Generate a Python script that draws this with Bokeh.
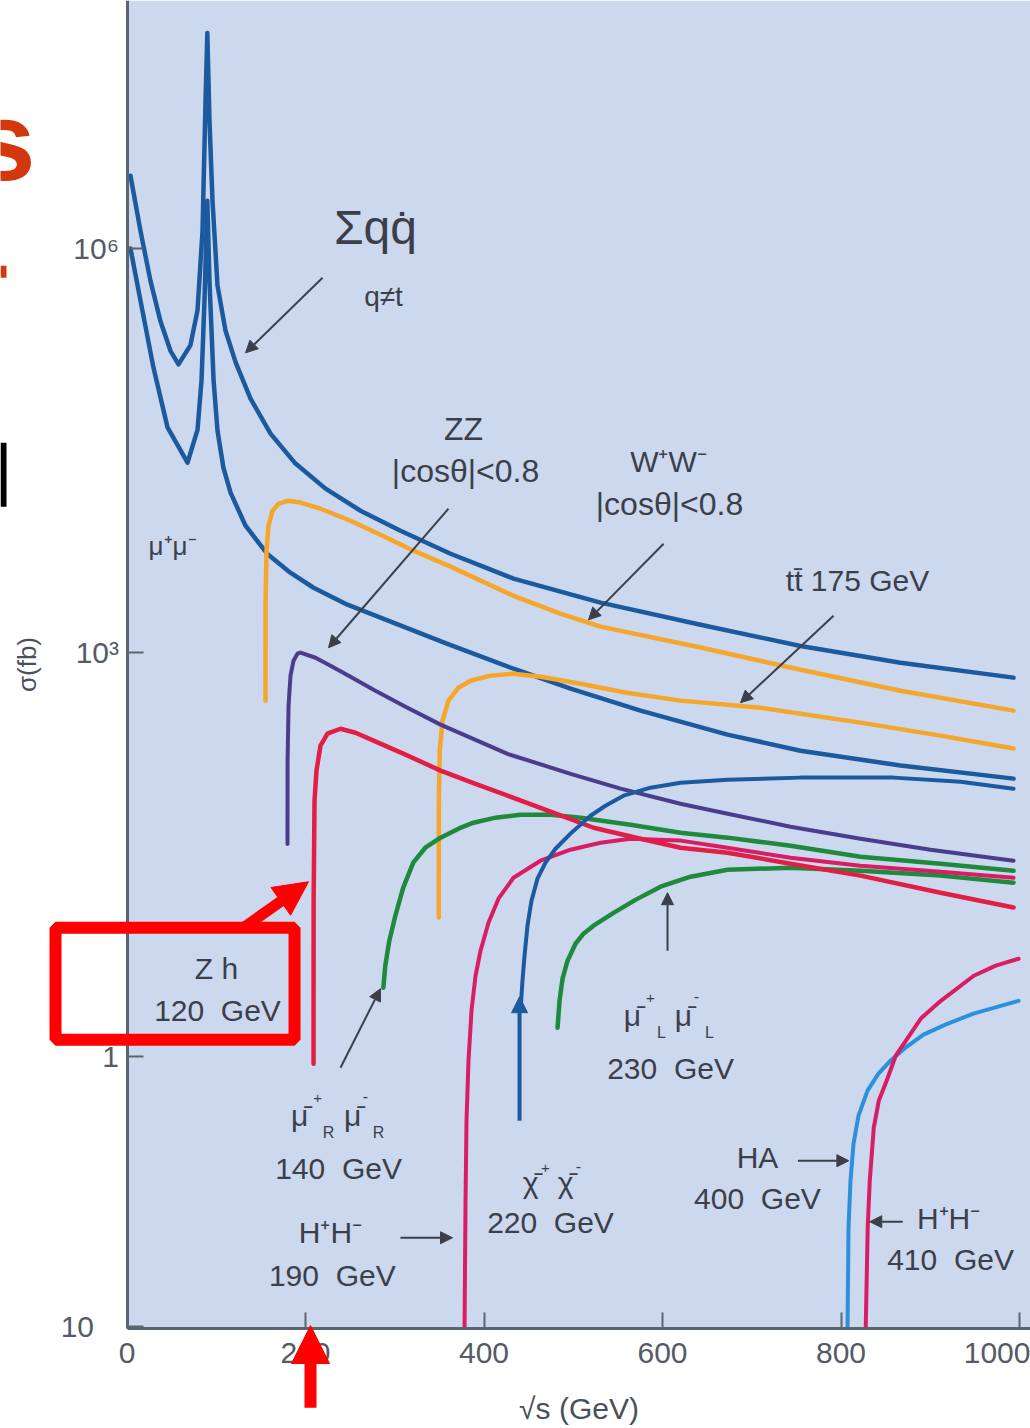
from bokeh.plotting import figure
from bokeh.models import Range1d, FixedTicker, Label, Arrow, NormalHead, BoxAnnotation, LinearAxis, LogAxis
from bokeh.embed import file_html
from bokeh.resources import INLINE

# ---------------- data (sqrt(s) in GeV, sigma in fb) ----------------
qq_E = [3.9, 15.1, 26.3, 37.5, 48.7, 57.7, 71, 79, 84.6, 88, 90, 92.4, 95.8, 101.4, 110.4, 121.8, 138.4,
        160.8, 188.8, 222.4, 261.6, 306.4, 362.5, 433.1, 530.5, 642.6, 754.6, 866.7, 993.3]
qq_S = [3.47e6, 1.35e6, 5.75e5, 2.88e5, 1.74e5, 1.38e5, 1.91e5, 3.47e5, 1.35e6, 1.26e7, 3.98e7, 8.9e6, 2.26e6,
        5.30e5, 2.45e5, 1.42e5, 7.67e4, 4.22e4, 2.53e4, 1.65e4, 1.13e4, 8.03e3, 5.42e3, 3.54e3, 2.35e3,
        1.61e3, 1.12e3, 841, 652]

mumu_E = [3.9, 15.1, 29.7, 45.4, 67.8, 79, 83.5, 86.8, 90, 92.4, 97, 101.4, 108, 116, 132.8, 157, 183, 209,
          247, 284, 359, 433.1, 497, 575.4, 672.8, 754.6, 866.7, 993.3]
mumu_S = [1.0e6, 4.1e5, 1.3e5, 4.7e4, 2.57e4, 4.5e4, 1.05e5, 4.1e5, 2.26e6, 5.75e5, 1.05e5, 4.44e4, 2.36e4,
          1.54e4, 8.75e3, 5.42e3, 3.92e3, 3.03e3, 2.27e3, 1.82e3, 1.16e3, 759, 540, 371, 246, 187, 145, 116]

ww_E = [155.2, 155.3, 156.3, 158.5, 163, 169.7, 179.8, 194.4, 216.8, 250.4, 284, 321.1, 362.5, 433.1, 486.3,
        530.5, 642.6, 754.6, 866.7, 993.3]
ww_S = [440, 2430, 5.71e3, 8.75e3, 1.13e4, 1.27e4, 1.34e4, 1.30e4, 1.17e4, 9.53e3, 7.50e3, 5.71e3, 4.35e3,
        2.64e3, 1.94e3, 1.56e3, 1.09e3, 746, 521, 371]

zz_E = [179.8, 179.9, 181, 183.2, 186.6, 191, 194.4, 211.2, 228, 250.4, 276.2, 312, 351.3, 426.4, 497, 553,
        620, 673, 743.4, 821.8, 900.3, 993.3]
zz_S = [38, 157, 404, 674, 871, 982, 1000, 916, 800, 662, 530, 396, 292, 177, 126, 97.7, 75.5, 63.7, 51,
        41.5, 34.4, 28.5]

tt_E = [349.3, 349.4, 350.4, 353.5, 360.2, 371.4, 384.9, 407.3, 433, 463.3, 508.1, 559.7, 620.2, 709.8,
        821.8, 911.5, 993.3]
tt_S = [10.8, 80, 187, 312, 440, 549, 618, 674, 697, 662, 588, 504, 440, 390, 302, 242, 194]

zh_E = [209, 209.1, 210.1, 212.3, 216.8, 224.6, 239.2, 256, 276.2, 312, 351.3, 390.5, 426.4, 474.5, 522.7,
        575.4, 620.2, 672.8, 743.4, 821.8, 911.5, 993.3]
zh_S = [0.887, 14.4, 79.6, 133, 204, 250, 272, 254, 222, 175, 133, 106, 86.7, 65.9, 50.1, 41.5, 35.6, 32.7,
        27.1, 22.1, 16.5, 12.8]

smuR_E = [287.2, 289.4, 293.9, 300.6, 309.5, 320.7, 334.2, 351.3, 371.4, 388.2, 412.9, 440.9, 474.5, 508.1,
          564.1, 620.2, 672.8, 743.4, 821.8, 911.5, 993.3]
smuR_S = [3.25, 4.74, 7.27, 11.1, 18.0, 27.6, 35.6, 42.3, 49.3, 54.6, 59.5, 62.6, 62.6, 59.5, 52.7, 46.0,
          42.3, 36.8, 30.5, 27.1, 24.0]

chi_E = [440.9, 443.1, 445.4, 448.7, 453.2, 459.9, 468.9, 480.1, 496.9, 519.3, 536.1, 556.3, 586.6, 620.2,
         672.8, 754.6, 858.8, 933.9, 993.3]
chi_S = [2.2, 3.67, 5.62, 9.4, 14.4, 21.0, 27.6, 35.0, 45.3, 61.5, 73.0, 86.7, 99.4, 108, 114, 118, 118, 110,
         97.7]

hpm190_E = [378.2, 379.3, 380.4, 382.6, 386, 390.5, 396.1, 405, 416.2, 433, 463.3, 496.9, 530.5, 564.1, 620.2,
            672.8, 743.4, 821.8, 911.5, 993.3]
hpm190_S = [0.00973, 0.0853, 0.335, 0.934, 2.2, 3.99, 6.12, 9.88, 14.9, 21.3, 28.5, 34.4, 38.8, 41.5, 40.2,
            35.6, 30.0, 26.2, 23.6, 21.3]

smuL_E = [482.4, 484.6, 488, 493.6, 502.5, 511.5, 522.7, 545.1, 569.7, 597.8, 631.4, 672.8, 743.4, 821.8,
          911.5, 993.3]
smuL_S = [1.64, 2.6, 3.8, 5.16, 6.9, 8.19, 9.4, 11.7, 14.6, 18.3, 21.7, 24.4, 25.3, 24.0, 22.1, 19.6]

ha_E = [807.3, 808.4, 810.6, 814, 819.6, 829.7, 842, 855.5, 872.3, 892.4, 917, 948.4, 998.9]
ha_S = [0.00973, 0.0538, 0.12, 0.226, 0.365, 0.56, 0.748, 0.934, 1.17, 1.46, 1.73, 2.09, 2.6]

hpm410_E = [827.7, 829.9, 832.2, 836.7, 842.3, 852.4, 861.3, 874.8, 889.4, 911.8, 948.8, 973.4, 999]
hpm410_S = [0.00973, 0.0538, 0.12, 0.297, 0.471, 0.698, 1.02, 1.38, 1.92, 2.6, 3.99, 4.74, 5.34]

x_ticks = [0, 200, 400, 600, 800, 1000]
y_ticks = [0.01, 1, 1000, 1000000]
y_tick_labels = {0.01: "10\u00a0\u00a0\u00a0", 1: "1", 1000: "10³", 1000000: "10⁶"}

E_MIN, E_MAX = 0, 1012.3          # extent of the plotted panel (GeV)
S_MIN, S_MAX = 10 ** -2.018, 10 ** 7.841   # extent of the plotted panel (fb)

# ---------------- styling ----------------
BLUE = "#1b5a9f"
ORANGE = "#f5a62b"
PURPLE = "#4a3d8d"
RED = "#e21e45"
PINK = "#d91c63"
GREEN = "#1f8a3c"
LBLUE = "#2d90db"
TXT = "#3b3f4a"
AXC = "#5c6470"
FONT = "Liberation Sans"

p = figure(width=1030, height=1428, x_range=Range1d(-141.74, 1012.3), y_range=Range1d(10 ** -2.760, 10 ** 7.841),
           y_axis_type="log", x_axis_location=None, y_axis_location=None,
           output_backend="svg", toolbar_location=None,
           min_border_left=0, min_border_right=0, min_border_top=0, min_border_bottom=0)
p.background_fill_color = "white"
p.border_fill_color = "white"
p.outline_line_color = None
p.grid.grid_line_color = None

# plot panel background
p.add_layout(BoxAnnotation(left=E_MIN, bottom=S_MIN, fill_color="#cbd8ee", fill_alpha=1,
                           line_color=None, level="underlay"))

xaxis = LinearAxis(fixed_location=S_MIN, bounds=(E_MIN, E_MAX), ticker=FixedTicker(ticks=x_ticks))
yaxis = LogAxis(fixed_location=E_MIN, bounds=(S_MIN, S_MAX), ticker=FixedTicker(ticks=y_ticks))
yaxis.major_label_overrides = y_tick_labels
for ax in (xaxis, yaxis):
    ax.axis_line_color = AXC
    ax.axis_line_width = 3
    ax.major_tick_line_color = AXC
    ax.major_tick_line_width = 2
    ax.major_tick_in = 16
    ax.major_tick_out = 0
    ax.minor_tick_line_color = None
    ax.major_label_text_font = FONT
    ax.major_label_text_color = "#555b66"
    ax.axis_label_text_font = FONT
    ax.axis_label_text_font_style = "normal"
    ax.axis_label_text_color = "#4a505b"
xaxis.major_label_text_font_size = "30px"
yaxis.major_label_text_font_size = "30px"
xaxis.major_label_standoff = 14
yaxis.major_label_standoff = 8
xaxis.axis_label = "√s (GeV)"
xaxis.axis_label_text_font_size = "30px"
xaxis.axis_label_standoff = 26
yaxis.axis_label = "σ(fb)"
yaxis.axis_label_text_font_size = "26px"
yaxis.axis_label_standoff = 16
p.add_layout(xaxis, "below")
p.add_layout(yaxis, "left")

series = [
    (qq_E, qq_S, BLUE, 4.5), (mumu_E, mumu_S, BLUE, 4.5), (ww_E, ww_S, ORANGE, 4.5),
    (tt_E, tt_S, ORANGE, 4.5), (zz_E, zz_S, PURPLE, 4), (smuR_E, smuR_S, GREEN, 4.5),
    (smuL_E, smuL_S, GREEN, 4.5), (hpm190_E, hpm190_S, PINK, 4), (zh_E, zh_S, RED, 4.5),
    (chi_E, chi_S, BLUE, 4), (ha_E, ha_S, LBLUE, 4), (hpm410_E, hpm410_S, PINK, 4),
]
for xs, ys, c, w in series:
    p.line(xs, ys, line_color=c, line_width=w, line_join="round", line_cap="round")


def label(x, y, text, size, color=TXT, align="center", baseline="middle", dx=0, dy=0, style="normal"):
    p.add_layout(Label(x=x, y=y, text=text, text_font=FONT, text_font_size=f"{size}px", text_color=color,
                       text_align=align, text_baseline=baseline, x_offset=dx, y_offset=dy,
                       text_font_style=style))


def compose(x, y, pieces):
    for t, dx, dy, s in pieces:
        label(x, y, t, s, dx=dx, dy=dy)


def arrow(x0, y0, x1, y1, color=TXT, width=2, head=12):
    p.add_layout(Arrow(x_start=x0, y_start=y0, x_end=x1, y_end=y1, line_color=color, line_width=width,
                       end=NormalHead(size=head, fill_color=color, line_color=color, line_width=1)))


GAP = "\u00a0 "
# ---------------- annotations ----------------
label(278.4, 1.43e6, "Σqq\u0307", 48)
label(287.4, 4.4e5, "q≠t", 28)
label(51, 6.2e3, "μ⁺μ⁻", 26)
label(377, 4.6e4, "ZZ", 32)
label(379.3, 2.24e4, "|cosθ|<0.8", 32)
label(606.7, 2.61e4, "W⁺W⁻", 30)
label(607.8, 1.27e4, "|cosθ|<0.8", 32)
label(818.5, 3.42e3, "tt\u0304 175 GeV", 30)
label(100.3, 4.5, "Z h", 30)
label(101.4, 2.2, "120" + GAP + "GeV", 30)
compose(237, 0.377, [("μ\u0304", -39, -2, 30), ("+", -21, 16, 15), ("R", -10, -19, 16),
                     ("μ\u0304", 14, -2, 30), ("-", 27, 18, 16), ("R", 40, -19, 16)])
label(237, 0.1475, "140" + GAP + "GeV", 30)
label(228, 0.0493, "H⁺H⁻", 30)
label(230, 0.0237, "190" + GAP + "GeV", 30)
compose(474.5, 0.12, [("χ\u0304", -20, -2, 30), ("+", -5, 13, 15), ("χ\u0304", 15, -2, 30), ("-", 28, 15, 16)])
label(474.5, 0.0586, "220" + GAP + "GeV", 30)
compose(606.7, 2.09, [("μ\u0304", -36, -2, 30), ("+", -18, 16, 15), ("L", -7, -19, 16),
                      ("μ\u0304", 15, -2, 30), ("-", 28, 18, 16), ("L", 41, -19, 16)])
label(609, 0.815, "230" + GAP + "GeV", 30)
label(706.4, 0.178, "HA", 30)
label(706.4, 0.0883, "400" + GAP + "GeV", 30)
label(920.5, 0.0627, "H⁺H⁻", 30)
label(922.7, 0.0311, "410" + GAP + "GeV", 30)

arrow(219.1, 6.07e5, 132.8, 1.68e5)
arrow(360.2, 1.17e4, 225.8, 1.087e3)
arrow(601.2, 6.43e3, 517.1, 1.75e3)
arrow(791.6, 1.88e3, 687.4, 4.25e2)
arrow(239.2, 0.829, 284, 3.2)
arrow(605.6, 6.12, 605.6, 16.5)
arrow(306.4, 0.0453, 364.7, 0.0453)
arrow(751.7, 0.169, 808.8, 0.169)
arrow(869.2, 0.0596, 832.2, 0.0596)
arrow(439.8, 0.335, 439.8, 2.79, color=BLUE, width=4, head=16)

# slide overlay marks
label(-102.5, 6.22e6, "s", 112, color="#d2380c", align="right", baseline="alphabetic", style="bold")
p.add_layout(BoxAnnotation(left=-141.74, right=-135, bottom=6.07e5, top=7.45e5, fill_color="#d2380c",
                           fill_alpha=1, line_color=None))
p.add_layout(BoxAnnotation(left=-141.74, right=-135, bottom=1.21e4, top=3.61e4, fill_color="black",
                           fill_alpha=1, line_color=None))
p.add_layout(BoxAnnotation(left=-80.1, right=187.7, bottom=1.337, top=9.07, fill_alpha=0,
                           line_color="#ff0000", line_alpha=1, line_width=12))
arrow(130.5, 9.07, 203.4, 19.9, color="#ff0000", width=11, head=34)
arrow(205.6, 0.00248, 205.6, 0.0101, color="#ff0000", width=12, head=38)

open("out.html", "w").write(file_html(p, INLINE))
